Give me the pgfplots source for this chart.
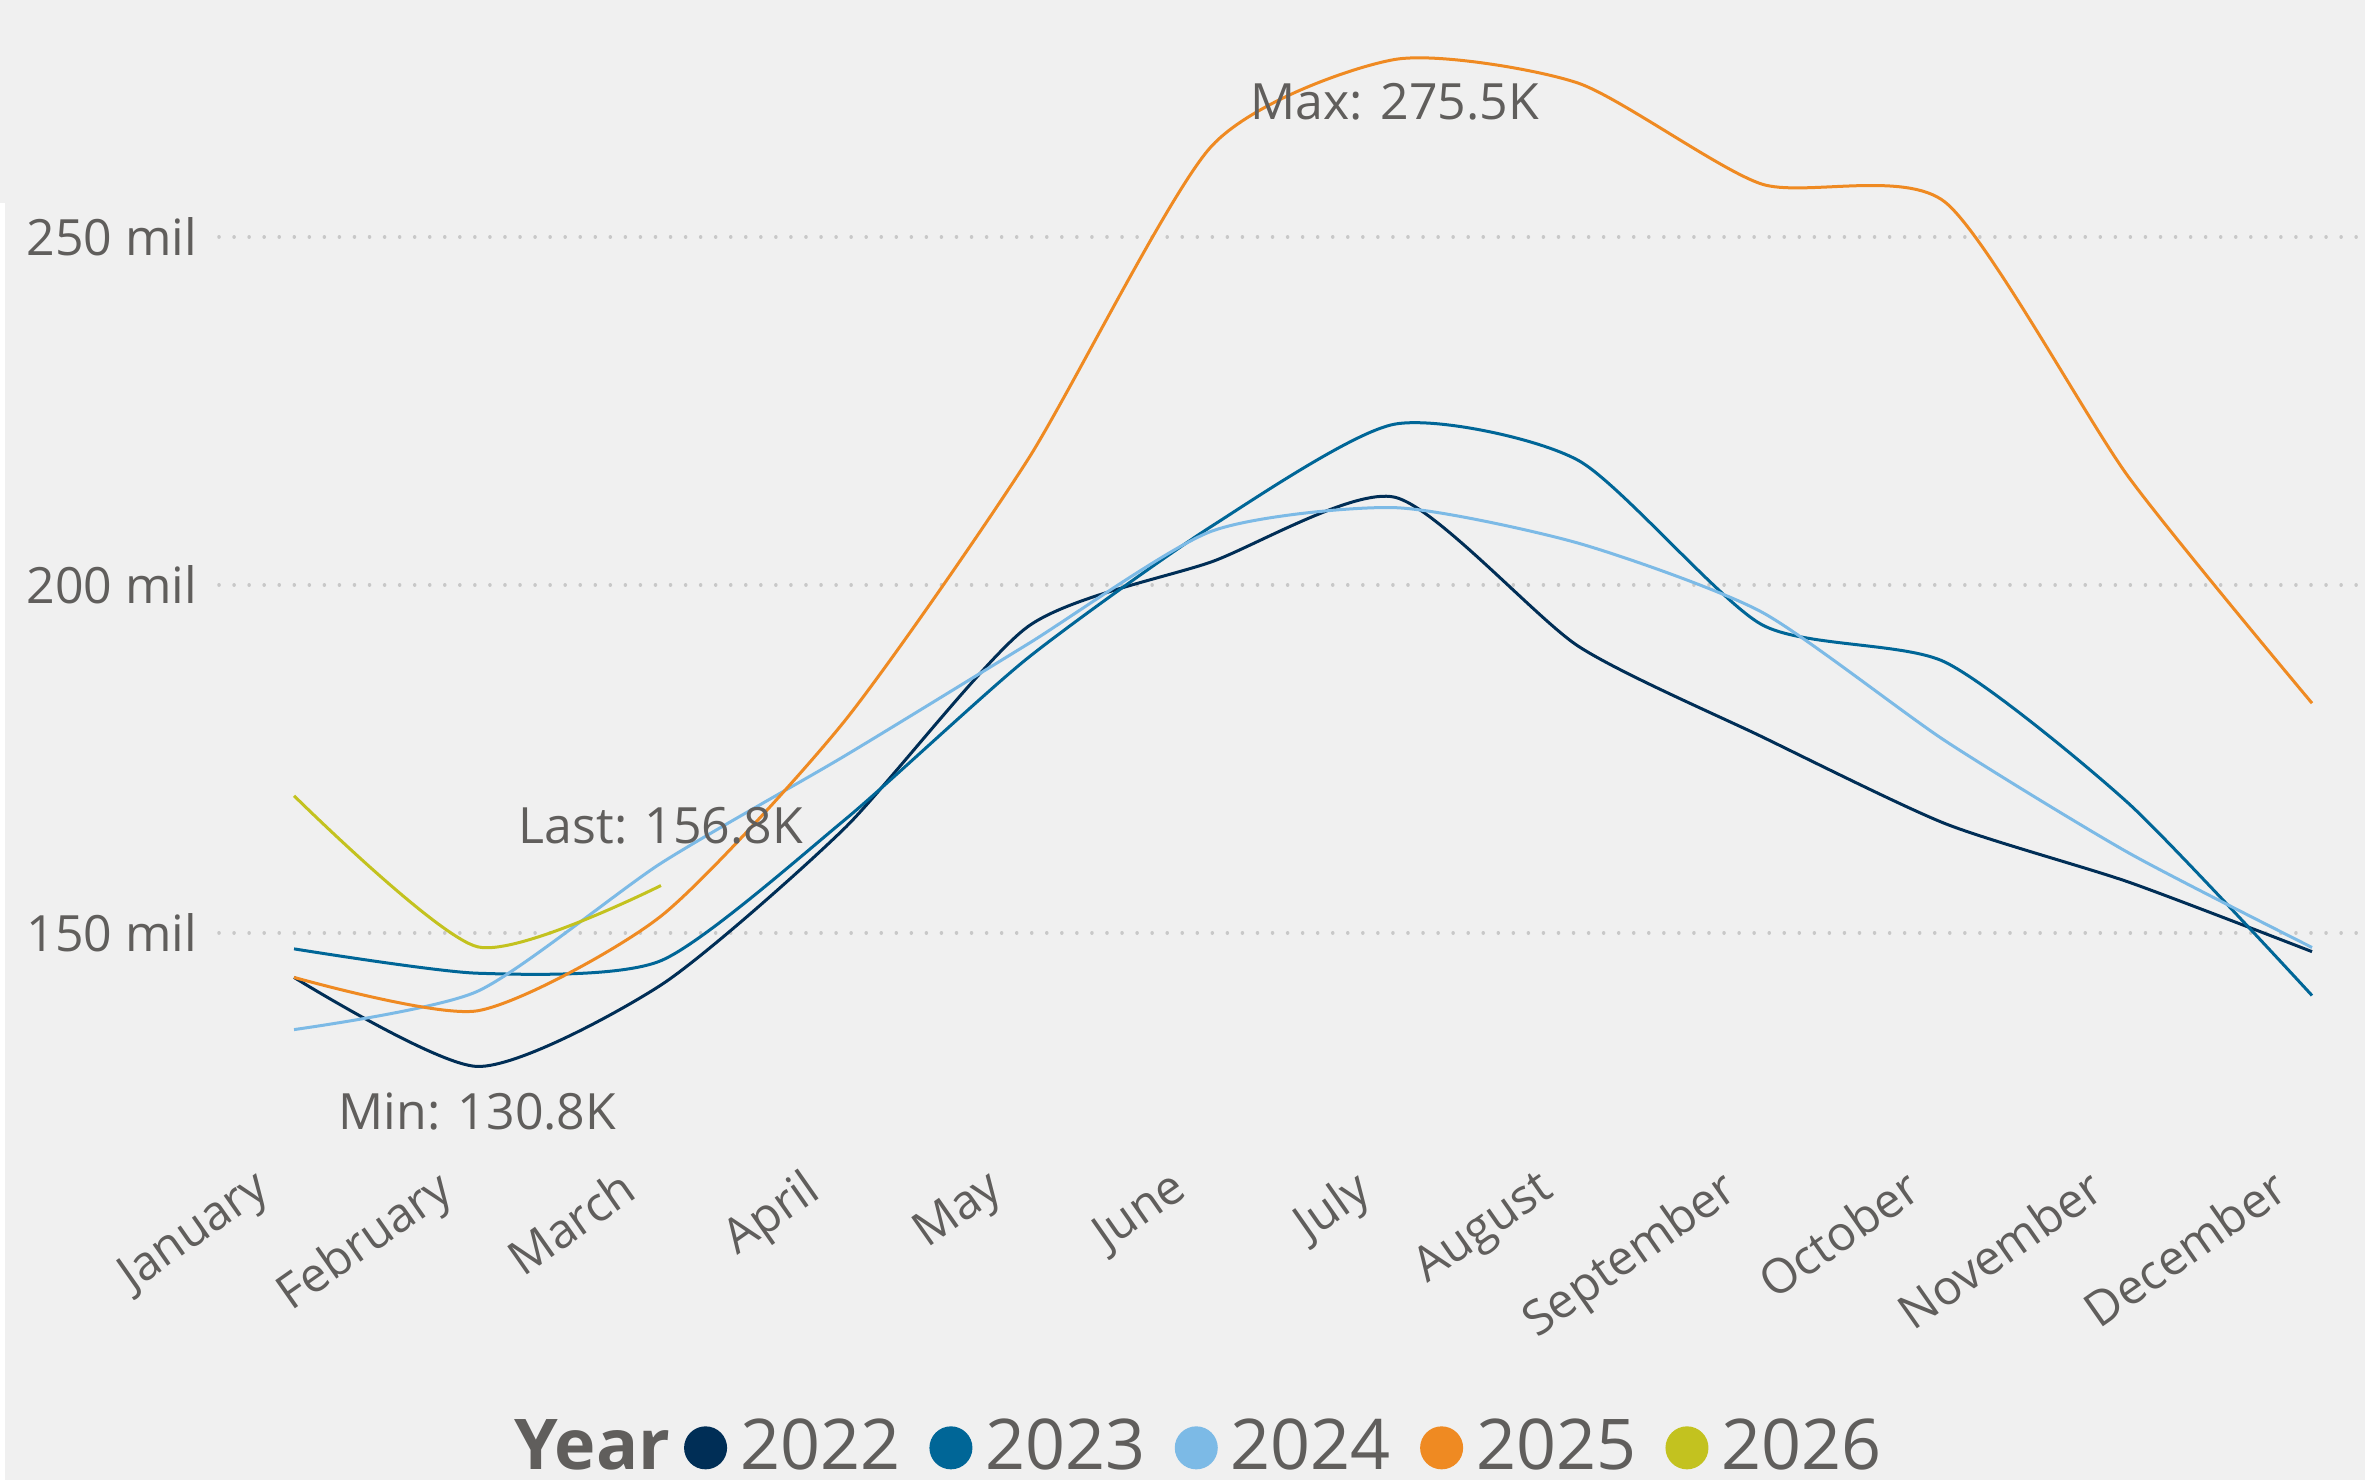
\documentclass[border=0pt]{standalone}
\usepackage{pgfplots}
\pgfplotsset{compat=1.18}
\usepackage{fontspec}
\setmainfont{Open Sans}
\definecolor{bg}{HTML}{F0F0F0}
\definecolor{txt}{HTML}{605E5C}
\definecolor{c22}{HTML}{002E56}
\definecolor{c23}{HTML}{006697}
\definecolor{c24}{HTML}{7CBAE6}
\definecolor{c25}{HTML}{EF8A22}
\definecolor{c26}{HTML}{C3C21F}
\definecolor{gridc}{HTML}{C8C8C8}
\begin{document}
\begin{tikzpicture}
\fill[bg] (0,0) rectangle (473pt,296pt);
\fill[white] (0,0) rectangle (1pt,255.4pt);
\begin{axis}[
  scale only axis, width=429.2pt, height=230pt,
  at={(43.8pt,296pt)}, anchor=north west,
  xmin=-0.409, xmax=11.289, ymin=118.8, ymax=284.05,
  axis line style={draw=none}, tick style={draw=none},
  major tick length=0pt,
  ymajorgrids,
  grid style={gridc, line width=0.7pt, line cap=round, dash pattern=on 0.01pt off 3pt},
  xtick={0,...,11},
  xticklabels={January,February,March,April,May,June,July,August,September,October,November,December},
  ytick={150,200,250},
  yticklabels={150 mil,200 mil,250 mil},
  tick label style={font=\fontsize{10}{12}\selectfont, text=txt},
  xticklabel style={font=\fontsize{9.6}{12}\selectfont, rotate=35, anchor=north east, inner sep=0pt, xshift=-8.7pt, yshift=2.4pt},
  yticklabel style={anchor=east, inner sep=0pt, xshift=-4.2pt},
  clip=false,
  legend columns=-1,
  legend style={at={(0.4532,-0.259)}, anchor=center, draw=none, fill=none,
    font=\fontsize{14}{16}\selectfont, text=txt,
    nodes={inner sep=0pt},
    /tikz/every odd column/.append style={column sep=2.6pt},
    /tikz/every even column/.append style={column sep=5.85pt}},
  legend image code/.code={\fill (4pt,0pt) circle (4pt);},
  every axis plot/.append style={line width=0.6pt, smooth, tension=0.4},
]
\addlegendimage{empty legend}
\addlegendentry{\makebox[28.05pt][l]{\textbf{Year}}}
\addplot[c22] coordinates {(0,143.6)(1,130.8)(2,142.5)(3,165.0)(4,194.0)(5,203.3)(6,212.6)(7,191.2)(8,178.2)(9,165.7)(10,157.3)(11,147.3)};
\addlegendentry{2022}
\addplot[c23] coordinates {(0,147.7)(1,144.2)(2,146.0)(3,166.2)(4,189.5)(5,208.4)(6,223.1)(7,217.9)(8,194.3)(9,188.9)(10,168.6)(11,141.0)};
\addlegendentry{2023}
\addplot[c24] coordinates {(0,136.1)(1,141.6)(2,160.0)(3,175.4)(4,191.5)(5,207.7)(6,211.1)(7,206.0)(8,196.1)(9,177.6)(10,161.5)(11,147.9)};
\addlegendentry{2024}
\addplot[c25] coordinates {(0,143.6)(1,138.8)(2,152.4)(3,180.4)(4,218.0)(5,263.0)(6,275.5)(7,272.1)(8,257.6)(9,255.0)(10,215.5)(11,183.0)};
\addlegendentry{2025}
\addplot[c26] coordinates {(0,169.7)(1,148.0)(2,156.8)};
\addlegendentry{2026}
\node[font=\fontsize{10}{12}\selectfont, text=txt, inner sep=0pt] at (axis cs:6,269.4) {Max: 275.5K};
\node[font=\fontsize{10}{12}\selectfont, text=txt, inner sep=0pt] at (axis cs:2,165.4) {Last: 156.8K};
\node[font=\fontsize{10}{12}\selectfont, text=txt, inner sep=0pt] at (axis cs:1,124.4) {Min: 130.8K};
\end{axis}
\pgfresetboundingbox
\useasboundingbox (0,0) rectangle (473pt,296pt);
\end{tikzpicture}
\end{document}
